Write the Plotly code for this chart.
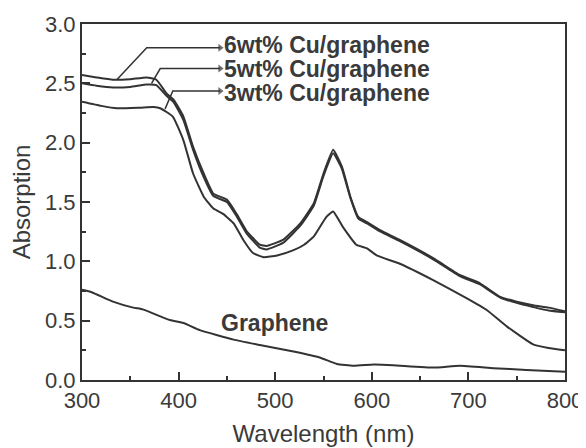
import plotly.graph_objects as go

# ---- data ----
wl_6 = [300, 315, 332, 350, 367, 377, 388, 395, 405, 415, 426, 436, 450, 460, 470, 484, 491,
        508, 526, 540, 550, 560, 569, 578, 586, 595, 609, 629, 664, 691, 712, 733, 750, 767, 783, 800]
abs_6 = [2.57, 2.55, 2.53, 2.535, 2.55, 2.53, 2.41, 2.36, 2.22, 1.965, 1.74, 1.57, 1.52, 1.40, 1.26, 1.14, 1.13,
         1.18, 1.32, 1.49, 1.74, 1.94, 1.80, 1.54, 1.375, 1.33, 1.26, 1.18, 1.025, 0.885, 0.815, 0.70, 0.66, 0.63, 0.61, 0.58]

wl_5 = wl_6
abs_5 = [2.50, 2.48, 2.465, 2.47, 2.49, 2.485, 2.39, 2.34, 2.19, 1.94, 1.71, 1.55, 1.50, 1.38, 1.24, 1.115, 1.10,
         1.155, 1.30, 1.47, 1.72, 1.91, 1.78, 1.53, 1.36, 1.32, 1.25, 1.17, 1.015, 0.875, 0.805, 0.695, 0.65, 0.615, 0.585, 0.57]

wl_3 = [300, 320, 336, 360, 374, 381, 394, 405, 415, 426, 436, 446, 457, 467, 477, 488, 502, 519, 530,
        540, 553, 560, 570, 584, 595, 605, 629, 664, 698, 719, 740, 767, 783, 800]
abs_3 = [2.345, 2.31, 2.29, 2.295, 2.30, 2.29, 2.22, 2.02, 1.74, 1.545, 1.445, 1.40, 1.32, 1.18, 1.07, 1.035, 1.05, 1.095, 1.14,
         1.21, 1.375, 1.42, 1.29, 1.14, 1.11, 1.05, 0.98, 0.84, 0.69, 0.59, 0.45, 0.30, 0.27, 0.25]

wl_g = [300, 310, 332, 353, 363, 391, 405, 422, 457, 484, 519, 546, 564, 581, 602, 622, 664, 691, 726, 760, 800]
abs_g = [0.76, 0.74, 0.66, 0.61, 0.595, 0.505, 0.48, 0.42, 0.34, 0.295, 0.24, 0.19, 0.135, 0.12, 0.13, 0.125,
         0.105, 0.12, 0.10, 0.085, 0.07]

labels = ["6wt% Cu/graphene", "5wt% Cu/graphene", "3wt% Cu/graphene"]
# leader lines: point on curve -> elbow -> arrow tip (wavelength, absorption)
leader_x = [[336, 367, 443], [372, 381, 443], [386, 394, 443]]
leader_y = [[2.53, 2.80, 2.80], [2.50, 2.625, 2.625], [2.285, 2.435, 2.435]]
label_y = [2.82, 2.625, 2.415]
label_x = 445
graphene_label = ("Graphene", 499, 0.48)

LINE = "#333333"
TXT = "#3a3a3a"
FONT = "Liberation Sans, Arial, sans-serif"

fig = go.Figure()
for xs, ys in [(wl_6, abs_6), (wl_5, abs_5), (wl_3, abs_3), (wl_g, abs_g)]:
    fig.add_trace(go.Scatter(x=xs, y=ys, mode="lines",
                             line=dict(color=LINE, width=2, shape="spline", smoothing=0.4),
                             showlegend=False, hoverinfo="skip"))

for lx, ly in zip(leader_x, leader_y):
    fig.add_trace(go.Scatter(x=lx, y=ly, mode="lines+markers",
                             line=dict(color=LINE, width=1.5),
                             marker=dict(symbol=["circle", "circle", "triangle-right"],
                                         size=[0, 0, 7], color=LINE, line=dict(width=0)),
                             showlegend=False, hoverinfo="skip"))

annotations = []
for text, y in zip(labels, label_y):
    annotations.append(dict(x=label_x, y=y, xref="x", yref="y", text=text, showarrow=False,
                            xanchor="left", yanchor="middle",
                            font=dict(family=FONT, size=23, color=TXT, weight="bold")))
annotations.append(dict(x=graphene_label[1], y=graphene_label[2], xref="x", yref="y",
                        text=graphene_label[0], showarrow=False, xanchor="center", yanchor="middle",
                        font=dict(family=FONT, size=23, color=TXT, weight="bold")))

axis_common = dict(showline=True, linecolor=LINE, linewidth=2, mirror=True,
                   ticks="inside", ticklen=8, tickwidth=2, tickcolor=LINE,
                   showgrid=False, zeroline=False, automargin=False,
                   tickfont=dict(family=FONT, size=22, color=TXT))

# the page body has an 8px margin, so the figure is drawn 8px in from the top-left
fig.update_layout(
    width=578, height=440,
    margin=dict(l=74, r=21, t=16, b=68),
    paper_bgcolor="white", plot_bgcolor="white",
    xaxis=dict(range=[300, 800], dtick=100, tick0=300,
               minor=dict(ticks="inside", ticklen=4, tickwidth=2, tickcolor=LINE, dtick=50),
               title=dict(text="Wavelength (nm)", font=dict(family=FONT, size=24, color=TXT), standoff=13),
               **axis_common),
    yaxis=dict(range=[0, 3.0], dtick=0.5, tick0=0, tickformat=".1f",
               minor=dict(ticks="inside", ticklen=4, tickwidth=2, tickcolor=LINE, dtick=0.25),
               title=dict(text="Absorption", font=dict(family=FONT, size=24, color=TXT), standoff=15),
               **axis_common),
    annotations=annotations,
)

fig.write_html("out.html")
